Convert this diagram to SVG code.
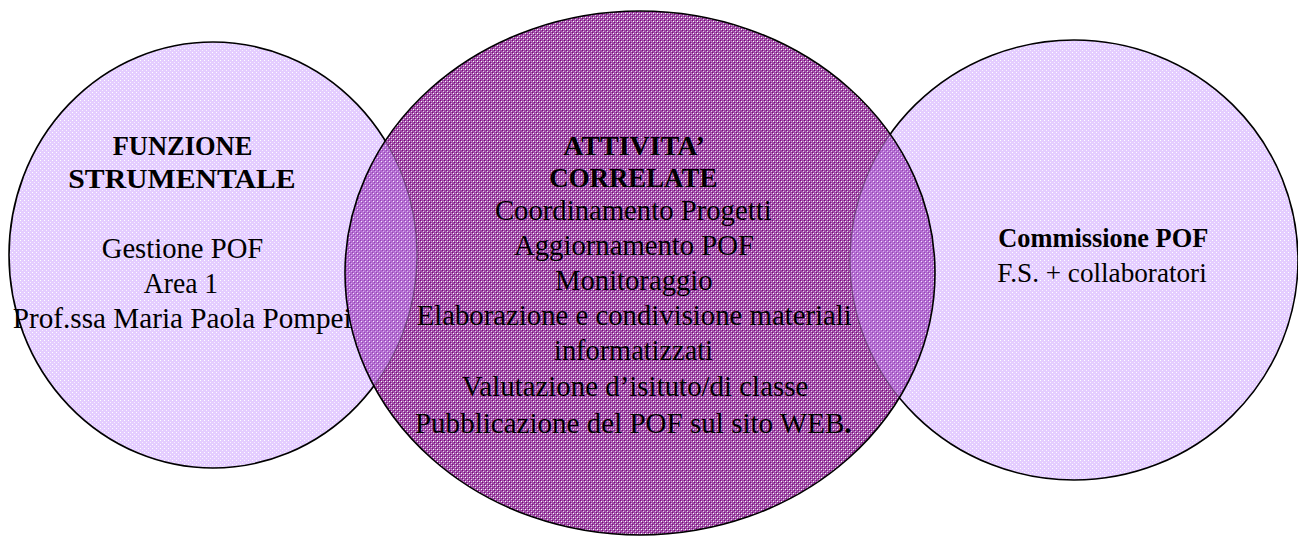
<svg xmlns="http://www.w3.org/2000/svg" width="1298" height="536" viewBox="0 0 1298 536">
  <defs>
    <pattern id="patSide" width="4" height="4" patternUnits="userSpaceOnUse">
      <rect width="4" height="4" fill="#e4cdff"/>
      <rect x="0" y="0" width="1" height="1" fill="#ffffff"/>
      <rect x="2" y="2" width="1" height="1" fill="#f8f0ff"/>
    </pattern>
    <pattern id="patMid" width="4" height="4" patternUnits="userSpaceOnUse">
      <rect width="4" height="4" fill="#9e52a6"/>
      <rect x="0" y="0" width="1" height="1" fill="#800080"/>
      <rect x="2" y="2" width="1" height="1" fill="#800080"/>
      <rect x="1" y="1" width="1" height="1" fill="#ffffff"/>
      <rect x="3" y="3" width="1" height="1" fill="#e8c8ec"/>
      <rect x="3" y="1" width="1" height="1" fill="#c88ccc"/>
    </pattern>
    <pattern id="patOver" width="4" height="4" patternUnits="userSpaceOnUse">
      <rect width="4" height="4" fill="#b46ed2"/>
      <rect x="0" y="0" width="1" height="1" fill="#9444b4"/>
      <rect x="2" y="2" width="1" height="1" fill="#9444b4"/>
      <rect x="1" y="1" width="1" height="1" fill="#f4e8fc"/>
      <rect x="3" y="3" width="1" height="1" fill="#d8b0ee"/>
    </pattern>
    <clipPath id="clipMid">
      <ellipse cx="640" cy="273" rx="295" ry="262"/>
    </clipPath>
  </defs>
  <style>
    .side { fill: url(#patSide); stroke: #000; stroke-width: 1.6; }
    .mid { fill: url(#patMid); stroke: none; }
    .over { fill: url(#patOver); stroke: #5a3a66; stroke-width: 1.2; stroke-opacity: 0.7; }
    .outline { fill: none; stroke: #000; stroke-width: 1.6; }
    .lbl text { font-family: 'Liberation Serif', 'Times New Roman', 'DejaVu Serif', serif; fill: #000; text-anchor: middle; }
    .b { font-weight: bold; font-size: 27px; }
    .r { font-size: 28.5px; }
    .r2 { font-size: 27px; }
  </style>

  <g id="node-left">
    <ellipse class="side" cx="213" cy="255" rx="204" ry="213"/>
  </g>
  <g id="node-right">
    <ellipse class="side" cx="1074" cy="260" rx="224" ry="220"/>
  </g>
  <g id="node-center">
    <ellipse class="mid" cx="640" cy="273" rx="295" ry="262"/>
  </g>
  <g id="overlaps" clip-path="url(#clipMid)">
    <ellipse class="over" cx="213" cy="255" rx="204" ry="213"/>
    <ellipse class="over" cx="1074" cy="260" rx="224" ry="220"/>
  </g>
  <g id="center-outline">
    <ellipse class="outline" cx="640" cy="273" rx="295" ry="262"/>
  </g>
  <g id="connectors"/>

  <g id="label-left" class="lbl" font-family="Liberation Serif, Times New Roman, DejaVu Serif, serif">
    <text class="b" x="182.5" y="155" textLength="139.6" lengthAdjust="spacingAndGlyphs">FUNZIONE</text>
    <text class="b" x="182" y="188" textLength="227.4" lengthAdjust="spacingAndGlyphs">STRUMENTALE</text>
    <text class="r" x="182.5" y="258" textLength="161.6" lengthAdjust="spacingAndGlyphs">Gestione POF</text>
    <text class="r" x="181" y="293" textLength="74.3" lengthAdjust="spacingAndGlyphs">Area 1</text>
    <text class="r" x="182.2" y="328" textLength="339" lengthAdjust="spacingAndGlyphs">Prof.ssa Maria Paola Pompei</text>
  </g>
  <g id="label-center" class="lbl" font-family="Liberation Serif, Times New Roman, DejaVu Serif, serif">
    <text class="b" x="634" y="155" textLength="141.7" lengthAdjust="spacingAndGlyphs">ATTIVITA’</text>
    <text class="b" x="633.3" y="186.7" textLength="168" lengthAdjust="spacingAndGlyphs">CORRELATE</text>
    <text class="r" x="633.3" y="220" textLength="276.7" lengthAdjust="spacingAndGlyphs">Coordinamento Progetti</text>
    <text class="r" x="634" y="255" textLength="240" lengthAdjust="spacingAndGlyphs">Aggiornamento POF</text>
    <text class="r" x="633.8" y="290" textLength="157.7" lengthAdjust="spacingAndGlyphs">Monitoraggio</text>
    <text class="r" x="634.2" y="325" textLength="435" lengthAdjust="spacingAndGlyphs">Elaborazione e condivisione materiali</text>
    <text class="r" x="633.5" y="360" textLength="159" lengthAdjust="spacingAndGlyphs">informatizzati</text>
    <text class="r" x="635" y="396" textLength="346.6" lengthAdjust="spacingAndGlyphs">Valutazione d’isituto/di classe</text>
    <text class="r" x="633.3" y="432.7" textLength="436.7" lengthAdjust="spacingAndGlyphs">Pubblicazione del POF sul sito WEB<tspan font-weight="bold">.</tspan></text>
  </g>
  <g id="label-right" class="lbl" font-family="Liberation Serif, Times New Roman, DejaVu Serif, serif">
    <text class="b" x="1103.3" y="246.7" textLength="210" lengthAdjust="spacingAndGlyphs">Commissione POF</text>
    <text class="r2" x="1102" y="281.7" textLength="209.4" lengthAdjust="spacingAndGlyphs">F.S. + collaboratori</text>
  </g>
</svg>
